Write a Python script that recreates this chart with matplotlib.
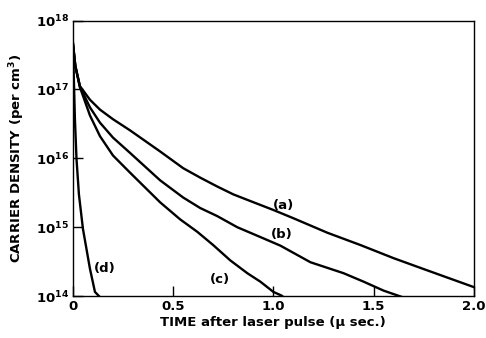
import matplotlib
matplotlib.use("Agg")
import matplotlib.pyplot as plt

plt.rcParams['font.family'] = ['DejaVu Sans']
plt.rcParams['font.weight'] = 'bold'
plt.rcParams['mathtext.fontset'] = 'custom'
plt.rcParams['mathtext.rm'] = 'DejaVu Sans:bold'
plt.rcParams['mathtext.it'] = 'DejaVu Sans:bold'
plt.rcParams['mathtext.bf'] = 'DejaVu Sans:bold'
plt.rcParams['mathtext.default'] = 'rm'

# Data: time (microseconds) and carrier density (per cm^3)
t_a = [0.0, 0.012, 0.035, 0.085, 0.135, 0.2, 0.285, 0.435, 0.55, 0.635, 0.72, 0.80, 0.885, 1.0, 1.10, 1.27, 1.435, 1.60, 1.77, 2.0]
n_a = [4.7e17, 2.2e17, 1.12e17, 7.1e16, 5.1e16, 3.7e16, 2.55e16, 1.26e16, 7.2e15, 5.25e15, 3.9e15, 3.0e15, 2.4e15, 1.78e15, 1.35e15, 8.3e14, 5.5e14, 3.55e14, 2.35e14, 1.35e14]

t_b = [0.0, 0.012, 0.035, 0.085, 0.135, 0.2, 0.285, 0.435, 0.55, 0.635, 0.72, 0.82, 0.935, 1.035, 1.185, 1.35, 1.45, 1.55, 1.62, 1.66]
n_b = [4.7e17, 2.2e17, 1.1e17, 5.5e16, 3.3e16, 2.0e16, 1.2e16, 4.8e15, 2.7e15, 1.9e15, 1.45e15, 1.0e15, 7.2e14, 5.4e14, 3.1e14, 2.15e14, 1.62e14, 1.2e14, 1.02e14, 0.93e14]

t_c = [0.0, 0.012, 0.035, 0.085, 0.135, 0.2, 0.285, 0.435, 0.535, 0.62, 0.70, 0.785, 0.87, 0.935, 1.0, 1.04, 1.06]
n_c = [4.7e17, 2.2e17, 1.08e17, 4.2e16, 2.1e16, 1.1e16, 6.2e15, 2.3e15, 1.3e15, 8.6e14, 5.5e14, 3.3e14, 2.15e14, 1.62e14, 1.15e14, 1.02e14, 0.92e14]

t_d = [0.0, 0.01, 0.018, 0.03, 0.05, 0.085, 0.11, 0.13, 0.145]
n_d = [4.7e17, 3.7e16, 9.8e15, 3.0e15, 9.5e14, 2.5e14, 1.15e14, 1.0e14, 0.9e14]

labels = ['(a)', '(b)', '(c)', '(d)']
label_t = [1.05, 1.04, 0.735, 0.16]
label_n = [2.1e15, 7.8e14, 1.75e14, 2.55e14]

x_ticks = [0, 0.5, 1.0, 1.5, 2.0]
x_ticklabels = ['0', '0.5', '1.0', '1.5', '2.0']
y_ticks = [1e14, 1e15, 1e16, 1e17, 1e18]
y_ticklabels = ['10$^{14}$', '10$^{15}$', '10$^{16}$', '10$^{17}$', '10$^{18}$']

fig = plt.figure(figsize=(4.86, 3.38), dpi=100)
ax = fig.add_axes([0.150, 0.124, 0.825, 0.815])

for t, n in [(t_a, n_a), (t_b, n_b), (t_c, n_c), (t_d, n_d)]:
    ax.plot(t, n, color='black', lw=1.7, solid_joinstyle='round')

for lab, lt, ln in zip(labels, label_t, label_n):
    ax.text(lt, ln, lab, fontsize=9.5, fontweight='bold', ha='center', va='center')

ax.set_yscale('log')
ax.set_xlim(0, 2.0)
ax.set_ylim(1e14, 1e18)
ax.set_xticks(x_ticks)
ax.set_xticklabels(x_ticklabels)
ax.set_yticks(y_ticks)
ax.set_yticklabels(y_ticklabels)
ax.minorticks_off()
ax.tick_params(axis='both', direction='in', length=7, width=1, labelsize=9.5, pad=3)
for lbl in ax.get_xticklabels() + ax.get_yticklabels():
    lbl.set_fontweight('bold')
for sp in ax.spines.values():
    sp.set_linewidth(1.0)

ax.set_xlabel('TIME after laser pulse (\u03bc sec.)', fontsize=9.5, fontweight='bold', labelpad=2)
ax.set_ylabel('CARRIER DENSITY (per cm$^3$)', fontsize=9.5, fontweight='bold', labelpad=6)

fig.savefig('out.png', dpi=100)
